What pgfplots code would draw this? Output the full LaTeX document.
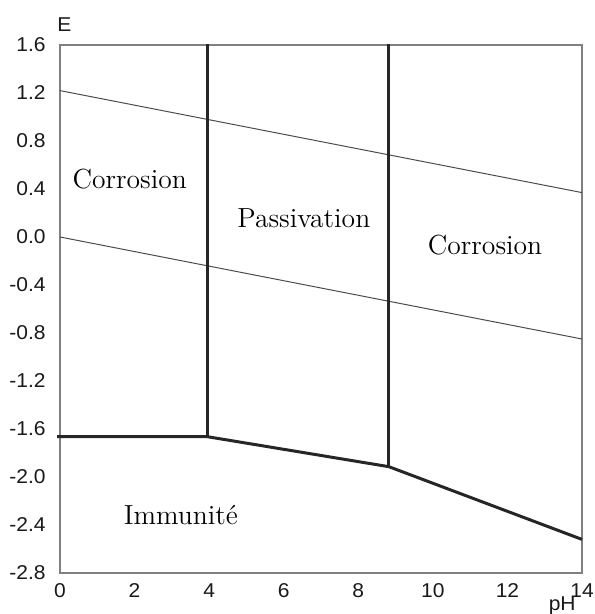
\documentclass[border=0pt]{standalone}
\usepackage{fontspec}
\usepackage{pgfplots}
\pgfplotsset{compat=1.18}
\newfontfamily\arial[FakeStretch=1.05]{Liberation Sans}
\begin{document}
\begin{tikzpicture}
\path[use as bounding box] (-30pt,-20.5pt) rectangle (267pt,286.5pt);
\begin{axis}[
  scale only axis, width=261pt, height=264pt,
  at={(0,0)}, anchor=south west,
  xmin=0, xmax=14, ymin=-2.8, ymax=1.6,
  xtick={0,2,4,6,8,10,12,14},
  ytick={-2.8,-2.4,-2.0,-1.6,-1.2,-0.8,-0.4,0,0.4,0.8,1.2,1.6},
  yticklabels={-2.8,-2.4,-2.0,-1.6,-1.2,-0.8,-0.4,0.0,0.4,0.8,1.2,1.6},
  xticklabels={0,2,4,6,8,10,12,14},
  major tick length=0pt,
  tick style={draw=none},
  axis line style={gray, line width=0.6pt},
  ticklabel style={font=\arial\fontsize{10}{12}\selectfont, inner sep=0pt, text=black!90},
  yticklabel style={xshift=-7pt},
  xticklabel style={yshift=-5pt},
  clip=false,
]
\addplot[line width=0.5pt, black!70] coordinates {(0,1.22) (14,0.37)};
\addplot[line width=0.5pt, black!70] coordinates {(0,0) (14,-0.85)};
\addplot[line width=1.1pt, gray] coordinates {(14,-2.52) (14,-2.8) (0,-2.8)};
\addplot[line width=1.5pt, black!85] coordinates {(-0.08,-1.664) (3.95,-1.664) (8.82,-1.914) (14,-2.52)};
\addplot[line width=1.5pt, black!85] coordinates {(3.95,-1.664) (3.95,1.61)};
\addplot[line width=1.5pt, black!85] coordinates {(8.82,-1.914) (8.82,1.61)};
\node[font=\fontsize{13.8}{16}\selectfont] at (axis cs:1.87,0.485) {Corrosion};
\node[font=\fontsize{13.8}{16}\selectfont] at (axis cs:6.54,0.158) {Passivation};
\node[font=\fontsize{13.8}{16}\selectfont] at (axis cs:11.40,-0.064) {Corrosion};
\node[font=\fontsize{13.8}{16}\selectfont] at (axis cs:3.24,-2.32) {Immunité};
\node[font=\arial\fontsize{10}{12}\selectfont, text=black!90, anchor=south west, inner sep=0pt, xshift=-1.5pt, yshift=6.5pt] at (rel axis cs:0,1) {E};
\node[font=\arial\fontsize{10}{12}\selectfont, text=black!90, anchor=base east, inner sep=0pt, xshift=-3pt, yshift=-18.5pt] at (rel axis cs:1,0) {pH};
\end{axis}
\end{tikzpicture}
\end{document}
